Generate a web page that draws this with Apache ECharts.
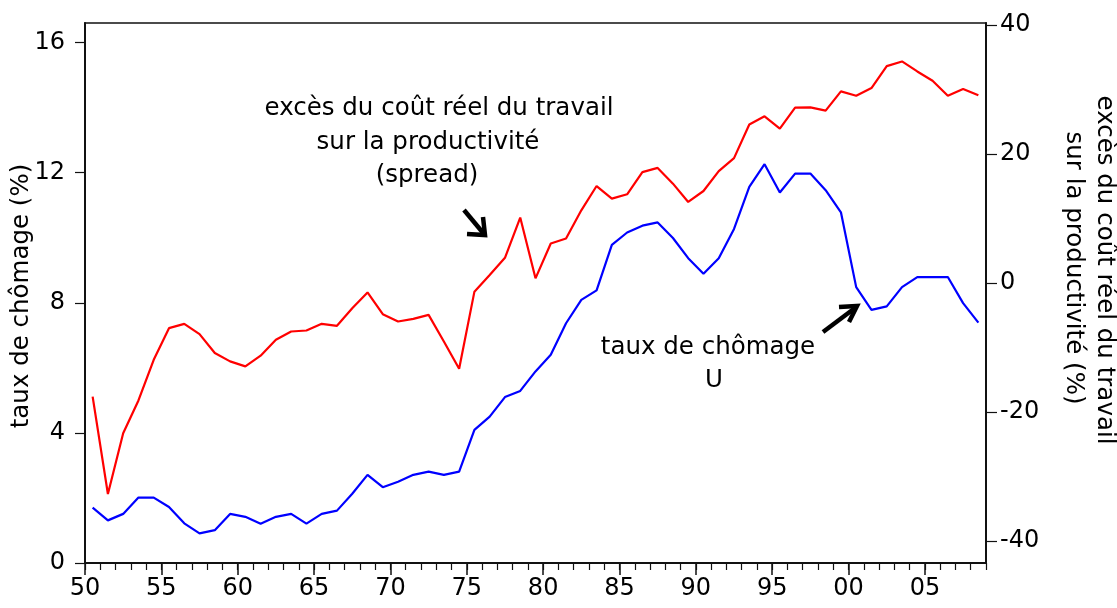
<!DOCTYPE html>
<html>
<head>
<meta charset="utf-8">
<script src="https://cdn.jsdelivr.net/npm/echarts@6/dist/echarts.min.js"></script>
<style>
html,body{margin:0;padding:0;background:#fff;}
#chart{width:1117px;height:608px;}
</style>
</head>
<body>
<div id="chart"></div>
<script>
// ---- data ----
var years = [1950,1951,1952,1953,1954,1955,1956,1957,1958,1959,
             1960,1961,1962,1963,1964,1965,1966,1967,1968,1969,
             1970,1971,1972,1973,1974,1975,1976,1977,1978,1979,
             1980,1981,1982,1983,1984,1985,1986,1987,1988,1989,
             1990,1991,1992,1993,1994,1995,1996,1997,1998,1999,
             2000,2001,2002,2003,2004,2005,2006,2007,2008];

// taux de chômage U (%), left axis
var unemployment = [1.70,1.31,1.51,2.01,2.01,1.72,1.22,0.91,1.01,1.51,
                    1.42,1.21,1.42,1.51,1.21,1.51,1.61,2.13,2.71,2.33,
                    2.50,2.71,2.81,2.71,2.81,4.09,4.50,5.10,5.29,5.89,
                    6.40,7.37,8.09,8.38,9.78,10.16,10.37,10.47,9.99,9.37,
                    8.89,9.37,10.27,11.56,12.26,11.39,11.97,11.97,11.46,10.78,
                    8.48,7.78,7.89,8.48,8.79,8.79,8.79,7.99,7.39];

// excès du coût réel du travail sur la productivité (%), right axis
var spread = [-17.6,-32.7,-23.3,-18.2,-11.9,-7.0,-6.33,-7.93,-10.86,-12.15,
              -12.92,-11.27,-8.80,-7.52,-7.36,-6.33,-6.64,-3.91,-1.47,-4.84,
              -5.97,-5.56,-4.94,-9.06,-13.28,-1.34,1.24,3.91,10.14,0.72,
              6.13,6.9,11.27,15.03,13.08,13.75,17.19,17.84,15.4,12.56,
              14.26,17.35,19.35,24.56,25.84,23.94,27.18,27.23,26.72,29.70,
              29.03,30.22,33.62,34.34,32.79,31.35,29.03,30.07,29.09];

var xMajorTicks = [1950,1955,1960,1965,1970,1975,1980,1985,1990,1995,2000,2005];
var leftTicks = [0,4,8,12,16];
var rightTicks = [-40,-20,0,20,40];

// ---- chart ----
var FONT = 'DejaVu Sans';
var chart = echarts.init(document.getElementById('chart'), null, {renderer:'canvas'});

function pairs(vals){
  return years.map(function(y,i){ return [y + 0.5, vals[i]]; }); // annual data plotted mid-year
}

var txt = {color:'#000', fontFamily:FONT, fontSize:24};
var AFONT = '24.5px "DejaVu Sans"';

var option = {
  animation:false,
  backgroundColor:'#fff',
  grid:{left:85, right:131, top:23, bottom:45, show:true, borderColor:'#111', borderWidth:1.5, containLabel:false},
  xAxis:[
    {type:'value', position:'bottom', min:1950, max:2009, interval:1,
     axisLine:{show:true, onZero:false, lineStyle:{color:'#111', width:2}},
     axisTick:{show:true, length:7, lineStyle:{color:'#111', width:1.2}},
     axisLabel:{show:false}, splitLine:{show:false}},
    {type:'value', position:'bottom', min:1950, max:2009, interval:5,
     axisLine:{show:false, onZero:false},
     axisTick:{show:true, length:12, customValues:xMajorTicks, lineStyle:{color:'#111', width:1.5}},
     axisLabel:Object.assign({show:true, margin:14, customValues:xMajorTicks,
       formatter:function(v){ return String(v).slice(2); }}, txt),
     splitLine:{show:false}}
  ],
  yAxis:[
    {type:'value', position:'left', min:0, max:16.6,
     axisLine:{show:true, onZero:false, lineStyle:{color:'#111', width:2}},
     axisTick:{show:true, length:10, customValues:leftTicks, lineStyle:{color:'#111', width:1.2}},
     axisLabel:Object.assign({margin:20, customValues:leftTicks}, txt),
     splitLine:{show:false}},
    {type:'value', position:'right', min:-43.4, max:40.3,
     axisLine:{show:true, onZero:false, lineStyle:{color:'#111', width:2}},
     axisTick:{show:true, length:11, customValues:rightTicks, lineStyle:{color:'#111', width:1.2}},
     axisLabel:Object.assign({margin:14, customValues:rightTicks}, txt),
     splitLine:{show:false}}
  ],
  series:[
    {type:'line', name:'spread', xAxisIndex:0, yAxisIndex:1, data:pairs(spread),
     showSymbol:false, symbol:'none', lineStyle:{color:'#ff0000', width:2.2}, z:3},
    {type:'line', name:'U', xAxisIndex:0, yAxisIndex:0, data:pairs(unemployment),
     showSymbol:false, symbol:'none', lineStyle:{color:'#0000ff', width:2.2}, z:4}
  ],
  graphic:[
    {type:'text', x:439, y:109, style:{text:'excès du coût réel du travail', fill:'#000', font:AFONT, align:'center', verticalAlign:'middle'}},
    {type:'text', x:428, y:143, style:{text:'sur la productivité', fill:'#000', font:AFONT, align:'center', verticalAlign:'middle'}},
    {type:'text', x:427, y:176, style:{text:'(spread)', fill:'#000', font:AFONT, align:'center', verticalAlign:'middle'}},
    {type:'text', x:708, y:348, style:{text:'taux de chômage', fill:'#000', font:AFONT, align:'center', verticalAlign:'middle'}},
    {type:'text', x:714, y:381, style:{text:'U', fill:'#000', font:AFONT, align:'center', verticalAlign:'middle'}},
    {type:'text', x:22, y:296, rotation:Math.PI/2, style:{text:'taux de chômage (%)', fill:'#000', font:AFONT, align:'center', verticalAlign:'middle'}},
    {type:'text', x:1104, y:270, rotation:-Math.PI/2, style:{text:'excès du coût réel du travail', fill:'#000', font:AFONT, align:'center', verticalAlign:'middle'}},
    {type:'text', x:1073, y:268, rotation:-Math.PI/2, style:{text:'sur la productivité (%)', fill:'#000', font:AFONT, align:'center', verticalAlign:'middle'}},
    {type:'polyline', shape:{points:[[464,210],[484,234]]}, style:{stroke:'#000', lineWidth:4.5, fill:null}},
    {type:'polyline', shape:{points:[[483,217],[485,235],[467,234]]}, style:{stroke:'#000', lineWidth:4.5, fill:null, lineJoin:'miter'}},
    {type:'polyline', shape:{points:[[823,332],[855,308]]}, style:{stroke:'#000', lineWidth:4.5, fill:null}},
    {type:'polyline', shape:{points:[[839,307],[857,306],[849,322]]}, style:{stroke:'#000', lineWidth:4.5, fill:null, lineJoin:'miter'}}
  ]
};
chart.setOption(option);
</script>
</body>
</html>
